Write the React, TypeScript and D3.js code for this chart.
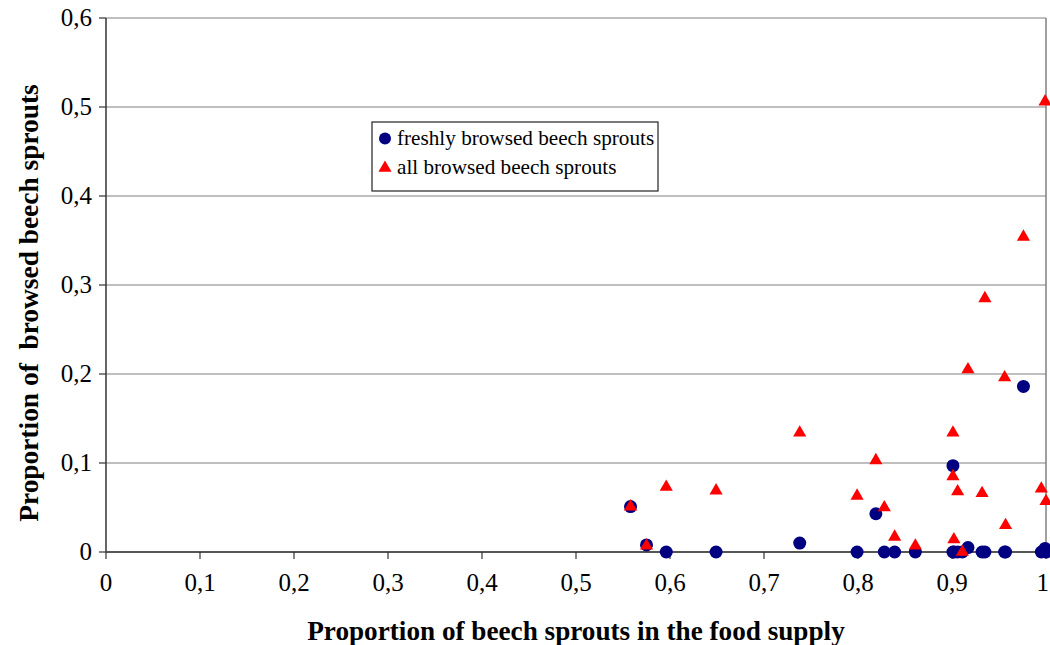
import * as d3 from 'd3'

// proportion of beech sprouts in the food supply
const supply = [
    0.558, 0.575, 0.596, 0.649, 0.738, 0.799, 0.819, 0.828, 0.839, 0.861,
    0.901, 0.901, 0.902, 0.906, 0.911, 0.917, 0.932, 0.935, 0.956, 0.957,
    0.976, 0.995, 0.999, 1.0
]
const freshlyBrowsed = [
    0.051, 0.008, 0, 0, 0.01, 0, 0.043, 0, 0, 0,
    0.097, 0, 0, 0, 0, 0.005, 0, 0, 0, 0,
    0.186, 0, 0.004, 0
]
const allBrowsed = [
    0.051, 0.007, 0.073, 0.069, 0.134, 0.063, 0.103, 0.05, 0.017, 0.007,
    0.134, 0.085, 0.014, 0.068, 0, 0.205, 0.066, 0.285, 0.196, 0.03,
    0.354, 0.071, 0.506, 0.057
]
const xTicks = [0, 0.1, 0.2, 0.3, 0.4, 0.5, 0.6, 0.7, 0.8, 0.9, 1]
const yTicks = [0, 0.1, 0.2, 0.3, 0.4, 0.5, 0.6]
const legendLabels = ['freshly browsed beech sprouts', 'all browsed beech sprouts']

const W = 1050
const H = 645
const margin = { left: 106, right: 4, top: 18, bottom: 93 }
const font = "'Liberation Serif'"
const fmt = (v: number) => String(+v.toFixed(1)).replace('.', ',')

const xScale = d3.scaleLinear().domain([0, 1]).range([margin.left, W - margin.right])
const yScale = d3.scaleLinear().domain([0, 0.6]).range([H - margin.bottom, margin.top])

const tri = d3.symbol().type(d3.symbolTriangle).size(75)()

export default function App() {
    const x0 = xScale(0)
    const x1 = xScale(1)
    const y0 = yScale(0)
    const yTop = yScale(0.6)
    return (
        <svg width={W} height={H} style={{ position: 'absolute', left: 0, top: 0, background: '#fff' }}>
            {/* gridlines */}
            {yTicks.slice(1).map((t) => (
                <line key={t} x1={x0} x2={x1} y1={yScale(t)} y2={yScale(t)} stroke="#808080" strokeWidth={1.2} />
            ))}
            <line x1={x1} x2={x1} y1={yTop} y2={y0} stroke="#808080" strokeWidth={1.5} />
            {/* axes */}
            <line x1={x0} x2={x0} y1={yTop} y2={y0} stroke="#333" strokeWidth={1.5} />
            <line x1={x0} x2={x1} y1={y0} y2={y0} stroke="#555" strokeWidth={2} />
            {yTicks.map((t) => (
                <g key={t}>
                    <line x1={x0 - 7} x2={x0} y1={yScale(t)} y2={yScale(t)} stroke="#333" strokeWidth={1.2} />
                    <text x={x0 - 14} y={yScale(t)} dy="0.33em" textAnchor="end" fontSize={25} style={{ fontFamily: font }}>
                        {fmt(t)}
                    </text>
                </g>
            ))}
            {xTicks.map((t) => (
                <g key={t}>
                    <line x1={xScale(t)} x2={xScale(t)} y1={y0} y2={y0 + 7} stroke="#333" strokeWidth={1.2} />
                    <text
                        x={t === 1 ? W - 1 : xScale(t)}
                        y={y0 + 31}
                        dy="0.33em"
                        textAnchor={t === 1 ? 'end' : 'middle'}
                        fontSize={25}
                        style={{ fontFamily: font }}
                    >
                        {fmt(t)}
                    </text>
                </g>
            ))}
            {/* axis titles */}
            <text x={576} y={640} textAnchor="middle" fontSize={27.2} fontWeight="bold" style={{ fontFamily: font }}>
                Proportion of beech sprouts in the food supply
            </text>
            <text
                transform="translate(38,303) rotate(-90)"
                textAnchor="middle"
                fontSize={27.4}
                fontWeight="bold"
                style={{ fontFamily: font, whiteSpace: 'pre' }}
            >
                Proportion of  browsed beech sprouts
            </text>
            {/* points */}
            {supply.map((s, i) => (
                <circle key={`c${i}`} cx={xScale(s)} cy={yScale(freshlyBrowsed[i])} r={6.5} fill="#000080" />
            ))}
            {supply.map((s, i) => (
                <path
                    key={`t${i}`}
                    d={tri}
                    transform={`translate(${xScale(s)},${yScale(allBrowsed[i])})`}
                    fill="#ff0000"
                />
            ))}
            {/* legend */}
            <rect x={372} y={122} width={286} height={69} fill="#fff" stroke="#222" strokeWidth={1.2} />
            <circle cx={385} cy={138.5} r={6} fill="#000080" />
            <path d={tri} transform="translate(385,168)" fill="#ff0000" />
            {legendLabels.map((l, i) => (
                <text key={l} x={397} y={145 + i * 29} fontSize={21.2} style={{ fontFamily: font }}>
                    {l}
                </text>
            ))}
        </svg>
    )
}
